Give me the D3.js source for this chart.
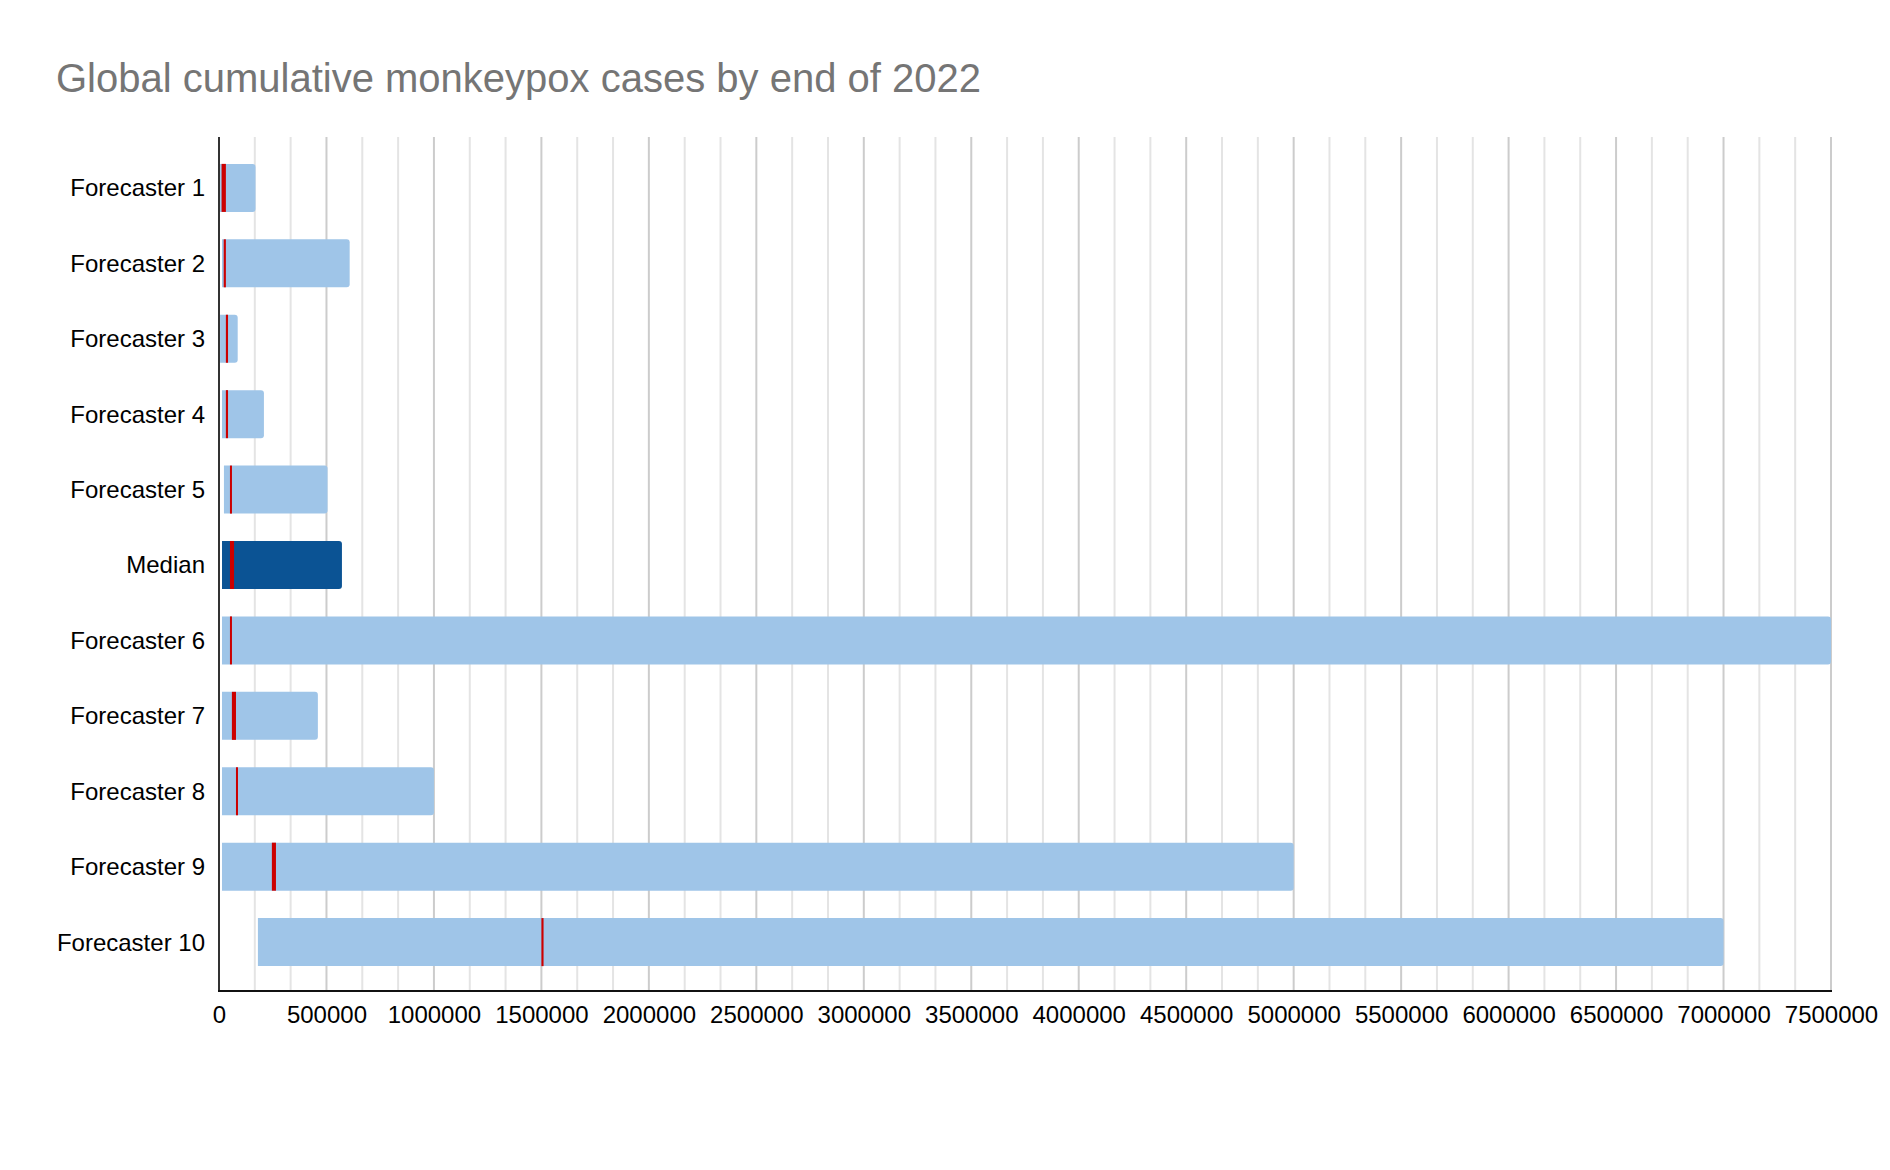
<!DOCTYPE html>
<html>
<head>
<meta charset="utf-8">
<script src="https://cdn.jsdelivr.net/npm/d3@7/dist/d3.min.js"></script>
<style>
  html, body { margin: 0; padding: 0; background: #fff; }
  svg { display: block; font-family: "Liberation Sans", Arial, sans-serif; }
</style>
</head>
<body>
<svg id="chart" width="1890" height="1170"></svg>
<script>
const title = "Global cumulative monkeypox cases by end of 2022";
const categories = ["Forecaster 1", "Forecaster 2", "Forecaster 3", "Forecaster 4", "Forecaster 5",
  "Median", "Forecaster 6", "Forecaster 7", "Forecaster 8", "Forecaster 9", "Forecaster 10"];
const lowVals   = [5000, 14000, 5000, 14000, 23000, 14000, 14000, 14000, 14000, 14000, 181000];
const redStart  = [12000, 22000, 32000, 32000, 51000, 51000, 51000, 60000, 79000, 246000, 1500000];
const redEnd    = [32000, 32000, 42000, 42000, 60000, 70000, 60000, 79000, 88000, 265000, 1510000];
const highVals  = [170000, 608000, 87000, 209000, 505000, 572000, 7500000, 460000, 1000000, 5000000, 7000000];
const majorTicks = [0, 500000, 1000000, 1500000, 2000000, 2500000, 3000000, 3500000, 4000000,
  4500000, 5000000, 5500000, 6000000, 6500000, 7000000, 7500000];
const minorPerMajor = 3;

const svg = d3.select("#chart");
const plot = { left: 219, right: 1831, top: 137, bottom: 991 };

const x = d3.scaleLinear().domain([0, 7500000]).range([plot.left, plot.right]);
const y = d3.scaleBand().domain(categories).range([150.3, 979.7]).paddingInner(0.363).paddingOuter(0.18);

// title
svg.append("text")
  .attr("x", 56).attr("y", 92)
  .attr("fill", "#757575")
  .style("font-size", "40px")
  .text(title);

// gridlines
const minorTicks = [];
for (let i = 0; i < majorTicks.length - 1; i++) {
  for (let k = 1; k < minorPerMajor; k++) {
    minorTicks.push(majorTicks[i] + (majorTicks[i + 1] - majorTicks[i]) * k / minorPerMajor);
  }
}
svg.append("g").selectAll("line").data(minorTicks).join("line")
  .attr("x1", d => x(d)).attr("x2", d => x(d))
  .attr("y1", plot.top).attr("y2", plot.bottom)
  .attr("stroke", "#e4e4e4").attr("stroke-width", 2);
svg.append("g").selectAll("line").data(majorTicks.slice(1)).join("line")
  .attr("x1", d => x(d)).attr("x2", d => x(d))
  .attr("y1", plot.top).attr("y2", plot.bottom)
  .attr("stroke", "#cccccc").attr("stroke-width", 2);

// bars
const rows = categories.map((c, i) => ({
  cat: c, lo: lowVals[i], rs: redStart[i], re: redEnd[i], hi: highVals[i]
}));
const r = 3;
function barPath(d) {
  const x0 = x(d.lo), x1 = Math.min(x(d.hi), plot.right);
  const y0 = y(d.cat), h = y.bandwidth();
  const rr = Math.min(r, (x1 - x0) / 2);
  return `M${x0},${y0} H${x1 - rr} Q${x1},${y0} ${x1},${y0 + rr} V${y0 + h - rr} Q${x1},${y0 + h} ${x1 - rr},${y0 + h} H${x0} Z`;
}
svg.append("g").selectAll("path").data(rows).join("path")
  .attr("d", barPath)
  .attr("fill", d => d.cat === "Median" ? "#0b5394" : "#9fc5e8");

svg.append("g").selectAll("rect").data(rows).join("rect")
  .attr("x", d => x(d.rs))
  .attr("width", d => Math.max(2, x(d.re) - x(d.rs)))
  .attr("y", d => y(d.cat))
  .attr("height", y.bandwidth())
  .attr("fill", "#cc0000");

// axes lines
svg.append("line")
  .attr("x1", plot.left).attr("x2", plot.left)
  .attr("y1", plot.top).attr("y2", plot.bottom)
  .attr("stroke", "#333").attr("stroke-width", 2);
svg.append("line")
  .attr("x1", plot.left - 1).attr("x2", plot.right + 1)
  .attr("y1", plot.bottom).attr("y2", plot.bottom)
  .attr("stroke", "#111").attr("stroke-width", 2);

// x axis labels
const xAxis = d3.axisBottom(x).tickValues(majorTicks).tickSize(0).tickPadding(0).tickFormat(d3.format("d"));
const gx = svg.append("g").attr("transform", `translate(0,${plot.bottom})`).call(xAxis);
gx.select(".domain").remove();
gx.selectAll("text")
  .attr("y", 32).attr("dy", 0)
  .attr("fill", "#000")
  .style("font-size", "24px")
  .style("font-family", "'Liberation Sans', Arial, sans-serif");

// y axis labels
const yAxis = d3.axisLeft(y).tickSize(0).tickPadding(14);
const gy = svg.append("g").attr("transform", `translate(${plot.left},0)`).call(yAxis);
gy.select(".domain").remove();
gy.selectAll("text")
  .attr("fill", "#000")
  .attr("dy", "0.35em")
  .style("font-size", "24px")
  .style("font-family", "'Liberation Sans', Arial, sans-serif");
</script>
</body>
</html>
